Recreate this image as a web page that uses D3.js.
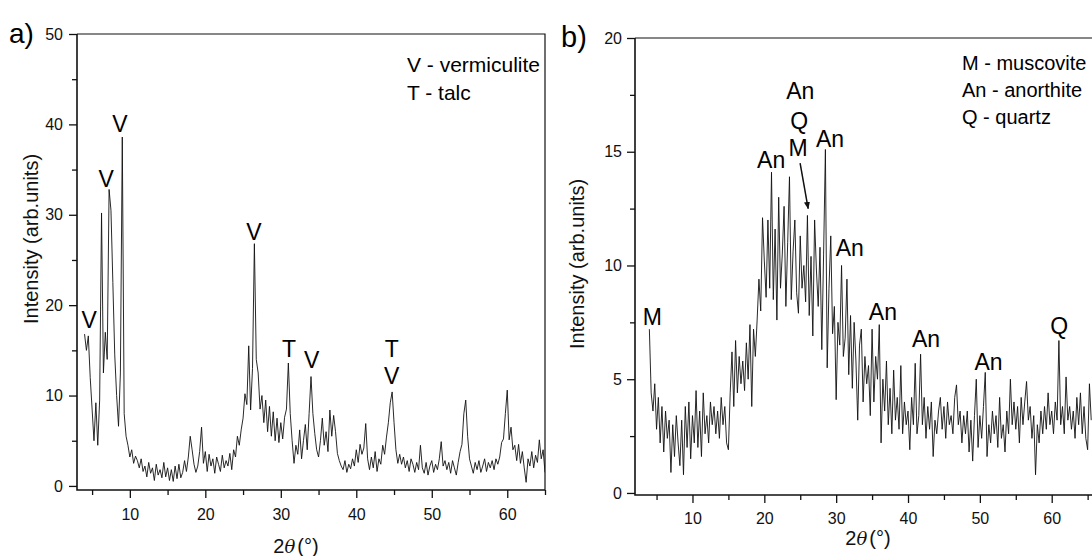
<!DOCTYPE html>
<html>
<head>
<meta charset="utf-8">
<script src="https://cdn.jsdelivr.net/npm/d3@7"></script>
<style>
    html, body { margin: 0; padding: 0; background: #fff; }
    svg { display: block; font-family: "Liberation Sans", Arial, sans-serif; }
</style>
</head>
<body>
<div id="chart"></div>
<script>
// XRD patterns, 2theta step scan (first point + step), intensities
const thetaStep = 0.25;

const thetaStartA = 4;
const intensityA = [
    16.8, 15.0, 16.6, 12.0,  8.5, 5.0, 9.2, 4.5,  9.5, 30.2, 12.5, 17.0,
    14.0, 32.8, 30.5, 22.5,  14.5, 10.0, 6.6, 12.5,  38.6, 8.0, 5.5, 4.5,
    3.2, 4.0, 2.5, 3.3,  2.8, 2.0, 3.0, 1.6,  2.2, 1.0, 2.6, 1.4,
    2.0, 0.6, 2.4, 1.2,  1.8, 0.9, 2.6, 1.0,  2.0, 0.6, 1.8, 0.5,
    2.2, 0.8, 2.4, 0.9,  1.5, 2.8, 1.6, 3.2,  5.5, 4.0, 2.4, 1.5,
    2.2, 3.8, 6.5, 2.5,  3.8, 1.6, 3.5, 2.2,  3.0, 1.4, 3.2, 2.4,
    1.6, 3.4, 2.0, 2.8,  2.2, 3.6, 1.8, 4.0,  3.2, 5.5, 4.5, 6.2,
    7.5, 10.2, 9.0, 15.5,  8.4, 13.0, 26.8, 14.0,  12.5, 8.5, 10.0, 7.0,
    9.5, 6.0, 8.8, 5.5,  8.2, 5.0, 7.5, 4.8,  7.0, 5.2, 7.6, 8.5,
    13.6, 8.0, 5.0, 2.5,  4.5, 3.5, 6.2, 3.0,  5.0, 6.8, 4.0, 8.0,
    12.1, 8.0, 5.8, 4.0,  3.2, 5.0, 7.5, 4.5,  6.0, 3.8, 8.4, 5.5,
    7.8, 6.0, 3.6, 2.8,  2.2, 1.8, 2.8, 1.5,  2.4, 1.9, 3.0, 2.2,
    4.0, 2.6, 4.6, 3.5,  4.2, 6.9, 3.0, 1.8,  3.2, 2.0, 3.8, 1.6,
    3.0, 2.4, 4.5, 3.5,  5.4, 7.0, 9.2, 10.4,  7.0, 4.0, 2.5, 3.5,
    2.4, 3.2, 2.0, 2.8,  1.6, 3.0, 2.4, 1.5,  2.6, 1.8, 4.5, 2.0,
    1.4, 2.6, 1.2, 2.2,  2.8, 1.5, 2.4, 1.8,  3.0, 4.9, 2.2, 2.8,
    1.8, 2.6, 1.4, 2.8,  2.0, 1.2, 2.6, 3.8,  4.6, 8.0, 9.5, 5.5,
    3.0, 2.2, 1.4, 2.6,  1.8, 2.8, 1.5, 2.2,  3.0, 1.6, 2.6, 2.0,
    2.8, 1.8, 3.0, 2.4,  3.2, 4.8, 5.2, 8.0,  10.6, 5.1, 6.5, 4.0,
    4.5, 2.8, 4.6, 2.5,  3.8, 2.0, 0.4, 3.0,  2.2, 3.8, 2.0, 3.4,
    2.6, 5.1, 3.0, 4.0,  1.5
];

const thetaStartB = 4;
const intensityB = [
    7.2, 4.4, 3.6, 4.8,  2.8, 4.2, 2.2, 3.8,  1.8, 3.6, 2.4, 3.2,
    0.9, 3.0, 1.6, 3.4,  2.2, 1.2, 3.2, 0.8,  3.8, 2.0, 4.0, 1.5,
    3.4, 2.2, 4.5, 2.0,  3.6, 1.6, 4.4, 2.6,  3.4, 2.2, 4.0, 3.0,
    3.8, 2.6, 3.6, 2.4,  4.2, 3.0, 3.8, 2.2,  1.9, 4.4, 6.2, 3.8,
    6.7, 4.4, 6.0, 4.8,  5.8, 4.5, 6.6, 5.0,  7.4, 3.8, 7.2, 6.0,
    7.6, 9.4, 8.0, 12.1,  10.2, 8.6, 12.0, 9.0,  14.1, 8.5, 11.6, 7.6,
    13.0, 9.0, 10.5, 12.6,  8.2, 11.0, 13.9, 8.5,  10.6, 12.0, 8.8, 7.9,
    11.3, 9.0, 10.0, 8.4,  12.2, 7.8, 10.4, 6.9,  12.0, 9.8, 8.2, 10.8,
    6.3, 10.5, 15.1, 5.5,  9.0, 11.3, 7.0, 8.2,  4.1, 7.5, 6.5, 10.0,
    6.0, 6.8, 9.4, 5.2,  7.8, 4.6, 7.5, 5.8,  3.2, 6.5, 7.2, 4.0,
    6.0, 4.8, 5.6, 3.4,  7.2, 4.0, 6.0, 5.0,  7.4, 2.2, 5.0, 3.6,
    5.8, 3.0, 4.6, 2.6,  5.4, 3.2, 4.2, 2.8,  5.6, 2.6, 4.0, 3.0,
    3.6, 1.9, 4.2, 3.0,  5.7, 2.6, 3.4, 6.1,  3.0, 4.2, 2.4, 3.8,
    2.8, 4.0, 1.6, 3.2,  2.6, 3.6, 4.2, 2.8,  3.8, 2.4, 4.0, 3.0,
    3.4, 2.6, 4.2, 4.75,  3.0, 3.6, 2.2, 3.4,  2.6, 3.6, 1.8, 3.2,
    1.4, 3.4, 5.0, 2.0,  3.4, 2.4, 3.8, 5.3,  1.6, 3.0, 2.2, 3.6,
    2.6, 3.4, 2.0, 4.2,  2.4, 3.0, 1.8, 3.6,  2.6, 5.0, 3.0, 4.0,
    2.8, 3.8, 2.2, 4.2,  3.0, 4.0, 4.9, 3.2,  3.8, 2.4, 3.4, 0.8,
    3.0, 2.2, 3.6, 2.6,  3.8, 2.8, 4.4, 3.0,  3.6, 2.6, 4.0, 3.2,
    6.7, 3.0, 3.8, 2.6,  5.1, 3.2, 3.8, 2.8,  3.6, 2.4, 4.2, 3.0,
    4.4, 2.6, 3.8, 2.4,  1.9, 4.8, 3.2
];

// tick values
const xTicks = [10, 20, 30, 40, 50, 60];
const xMinor = [5, 15, 25, 35, 45, 55, 65];
const yTicksA = [0, 10, 20, 30, 40, 50];
const yMinorA = [5, 15, 25, 35, 45];
const yTicksB = [0, 5, 10, 15, 20];
const yMinorB = [2.5, 7.5, 12.5, 17.5];

// legends
const legendA = ["V - vermiculite", "T - talc"];
const legendB = ["M - muscovite", "An - anorthite", "Q - quartz"];

// phase labels: [text, 2theta, intensity at label baseline]
const peaksA = [
    ["V", 4.6, 17.5], ["V", 6.85, 33.1], ["V", 8.7, 39.2], ["V", 26.45, 27.2],
    ["T", 31.1, 14.3], ["V", 34.1, 13.0], ["T", 44.7, 14.3], ["V", 44.7, 11.3]
];
const peaksB = [
    ["M", 4.4, 7.4], ["An", 20.95, 14.3], ["An", 25.0, 17.3], ["Q", 24.85, 16.0],
    ["M", 24.7, 14.8], ["An", 29.15, 15.2], ["An", 31.9, 10.4], ["An", 36.5, 7.6],
    ["An", 42.5, 6.4], ["An", 51.2, 5.4], ["Q", 61.05, 7.0]
];
// arrow from the M label to the muscovite reflection: [2theta, intensity]
const arrowB = [[24.98, 14.5], [26.1, 12.5]];

const W = 1092, H = 556;
const ink = "#111";

const svg = d3.select("#chart").append("svg")
    .attr("width", W)
    .attr("height", H)
    .attr("viewBox", `0 0 ${W} ${H}`);

svg.append("defs").append("marker")
    .attr("id", "head")
    .attr("viewBox", "0 0 10 10")
    .attr("refX", 9).attr("refY", 5)
    .attr("markerWidth", 5).attr("markerHeight", 5)
    .attr("orient", "auto")
    .append("path")
    .attr("d", "M0,1 L10,5 L0,9 Z")
    .attr("fill", ink);

function drawPanel(p) {
    const x = d3.scaleLinear().domain(p.xDomain).range([p.left, p.right]);
    const y = d3.scaleLinear().domain(p.yDomain).range([p.bottom, p.top]);
    const g = svg.append("g");

    g.append("clipPath").attr("id", "clip-" + p.id)
        .append("rect")
        .attr("x", p.left).attr("y", p.top)
        .attr("width", p.right - p.left).attr("height", p.bottom - p.top);

    // pattern
    const pts = p.data.map((v, i) => [p.start + i * thetaStep, v]);
    g.append("path")
        .datum(pts)
        .attr("clip-path", `url(#clip-${p.id})`)
        .attr("fill", "none")
        .attr("stroke", ink)
        .attr("stroke-width", 0.9)
        .attr("d", d3.line().x(d => x(d[0])).y(d => y(d[1])));

    // bottom axis
    g.append("g")
        .attr("transform", `translate(0,${p.bottom})`)
        .call(d3.axisBottom(x).tickValues(xTicks).tickSize(8).tickPadding(p.xPad).tickFormat(d3.format("d")))
        .call(a => a.select(".domain").remove());
    g.append("g")
        .attr("transform", `translate(0,${p.bottom})`)
        .call(d3.axisBottom(x).tickValues(xMinor.filter(v => v <= p.xDomain[1])).tickSize(5).tickFormat(""))
        .call(a => a.select(".domain").remove());

    // left axis
    g.append("g")
        .attr("transform", `translate(${p.left},0)`)
        .call(d3.axisLeft(y).tickValues(p.yTicks).tickSize(8).tickPadding(p.yPad).tickFormat(d3.format("d")))
        .call(a => a.select(".domain").remove());
    g.append("g")
        .attr("transform", `translate(${p.left},0)`)
        .call(d3.axisLeft(y).tickValues(p.yMinor).tickSize(5).tickFormat(""))
        .call(a => a.select(".domain").remove());

    g.selectAll(".tick line").attr("stroke", ink).attr("stroke-width", 1.3);
    g.selectAll(".tick text")
        .attr("fill", "#111")
        .style("font-size", "16px")
        .style("font-family", "Liberation Sans, Arial, sans-serif");

    // frame
    g.append("path")
        .attr("d", `M${p.left},${p.top}V${p.bottom}H${p.right}`)
        .attr("fill", "none").attr("stroke", ink).attr("stroke-width", 1.6);
    g.append("path")
        .attr("d", `M${p.left},${p.top}H${p.right}V${p.bottom}`)
        .attr("fill", "none").attr("stroke", ink).attr("stroke-width", 1.2);

    // panel letter
    g.append("text")
        .attr("x", p.tag[1]).attr("y", p.tag[2])
        .attr("font-size", p.tag[3])
        .attr("fill", "#000")
        .text(p.tag[0]);

    // y title
    g.append("text")
        .attr("transform", `translate(${p.yTitle[0]},${p.yTitle[1]}) rotate(-90)`)
        .attr("text-anchor", "middle")
        .attr("font-size", 20)
        .attr("fill", "#111")
        .text("Intensity (arb.units)");

    // x title 2θ(°)
    const xt = g.append("text")
        .attr("x", p.xTitle[0]).attr("y", p.xTitle[1])
        .attr("text-anchor", "middle")
        .attr("font-size", 20)
        .attr("fill", "#111");
    xt.append("tspan").text("2");
    xt.append("tspan").attr("font-style", "italic").attr("font-family", "DejaVu Serif, serif").attr("font-size", 18).text("θ");
    xt.append("tspan").attr("dx", 2).text("(°)");

    // legend
    g.selectAll(".legend")
        .data(p.legend)
        .join("text")
        .attr("x", p.legendPos[0])
        .attr("y", (d, i) => p.legendPos[1] + i * p.legendPos[2])
        .attr("font-size", p.legendPos[3])
        .attr("fill", "#000")
        .text(d => d);

    // phase labels
    g.selectAll(".peak")
        .data(p.peaks)
        .join("text")
        .attr("x", d => x(d[1]))
        .attr("y", d => y(d[2]))
        .attr("text-anchor", "middle")
        .attr("font-size", 23)
        .attr("fill", "#000")
        .text(d => d[0]);

    if (p.arrow) {
        g.append("line")
            .attr("x1", x(p.arrow[0][0])).attr("y1", y(p.arrow[0][1]))
            .attr("x2", x(p.arrow[1][0])).attr("y2", y(p.arrow[1][1]))
            .attr("stroke", ink).attr("stroke-width", 1.5)
            .attr("marker-end", "url(#head)");
    }
}

drawPanel({
    id: "a", data: intensityA, start: thetaStartA,
    xDomain: [3, 65], yDomain: [-0.45, 50],
    left: 77, right: 545, top: 34, bottom: 490,
    yTicks: yTicksA, yMinor: yMinorA, xPad: 11, yPad: 6,
    tag: ["a)", 9, 43, 28],
    yTitle: [38, 239],
    xTitle: [296, 553],
    legend: legendA, legendPos: [407, 72, 28, 21],
    peaks: peaksA
});

drawPanel({
    id: "b", data: intensityB, start: thetaStartB,
    xDomain: [2, 67], yDomain: [-0.09, 20],
    left: 635, right: 1102, top: 38, bottom: 495,
    yTicks: yTicksB, yMinor: yMinorB, xPad: 10, yPad: 5,
    tag: ["b)", 561, 47, 29],
    yTitle: [584, 264],
    xTitle: [868, 545],
    legend: legendB, legendPos: [962, 70, 27, 20],
    peaks: peaksB, arrow: arrowB
});
</script>
</body>
</html>
